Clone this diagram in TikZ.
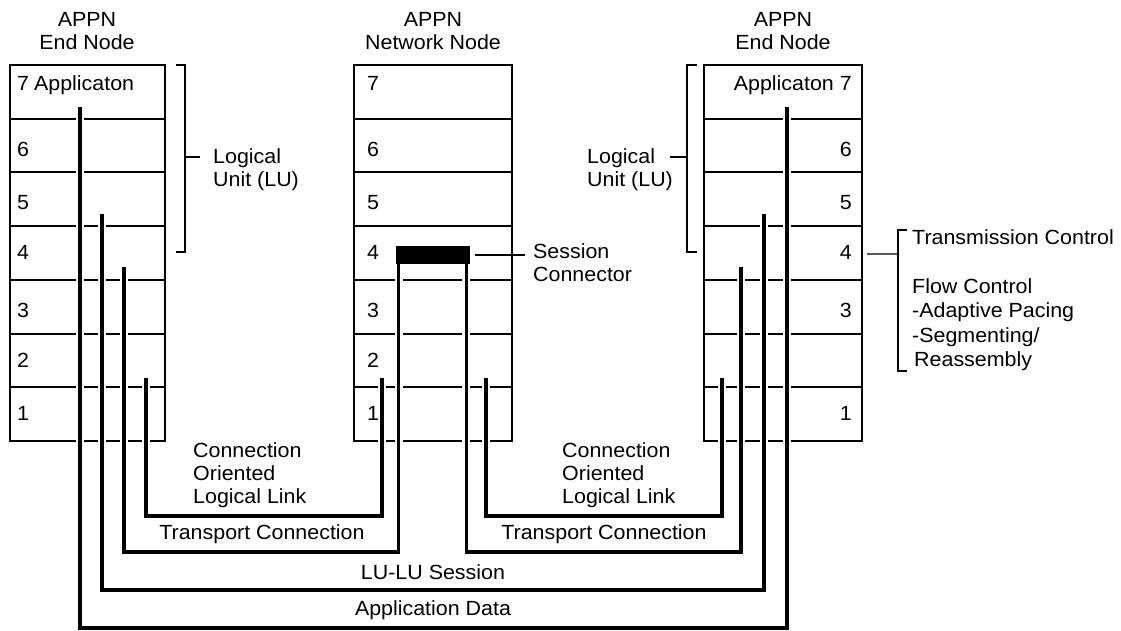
\documentclass[tikz,border=0pt]{standalone}
\usepackage{fontspec}
\setmainfont{Liberation Sans}[FakeStretch=1.045]
\usetikzlibrary{calc}
\begin{document}
\begin{tikzpicture}[x=1pt,y=-1pt,
  layer/.style={draw, line width=2pt, inner sep=0pt, minimum height=53.714pt},
  lbl/.style={inner sep=0pt, font=\fontsize{20.5}{23}\selectfont},
  conn/.style={line width=3.2pt, preaction={draw=white, line width=7.8pt}},
  bracket/.style={line width=1.2pt}]
\useasboundingbox (0,0) rectangle (1121,631);

% protocol stacks: a = left end node, b = network node, c = right end node
\foreach \i in {1,...,7}{
  \node[layer, minimum width=155pt] (a\i) at (87.5,{441-(\i-0.5)*53.714}) {};
  \node[layer, minimum width=158pt] (b\i) at (433,{441-(\i-0.5)*53.714}) {};
  \node[layer, minimum width=158pt] (c\i) at (783,{441-(\i-0.5)*53.714}) {};
}

% headers
\node[lbl, align=center] (ha) at (87,31) {APPN\\End Node};
\node[lbl, align=center] (hb) at (433,31) {APPN\\Network Node};
\node[lbl, align=center] (hc) at (783,31) {APPN\\End Node};

% layer numbers
\node[lbl, anchor=base west] (na7) at (17,91) {7\hspace{5pt}Applicaton};
\foreach \i/\y in {6/157,5/210,4/259,3/317,2/367,1/420}{
  \node[lbl, anchor=base west] (na\i) at (17,\y) {\i};
  \node[lbl, anchor=base west] (nb\i) at (367,\y) {\i};
}
\node[lbl, anchor=base west] (nb7) at (367,91) {7};
\node[lbl, anchor=base east] (nc7) at (852,91) {Applicaton\hspace{6pt}7};
\foreach \i/\y in {6/157,5/210,4/259,3/317,1/420}{
  \node[lbl, anchor=base east] (nc\i) at (852,\y) {\i};
}

% logical unit brackets
\coordinate (luA1) at (176,65);  \coordinate (luA2) at (185,65);
\coordinate (luA3) at (185,252); \coordinate (luA4) at (176,252);
\coordinate (luAm) at (185,157); \coordinate (luAt) at (200,157);
\draw[bracket] (luA1) -- (luA2) -- (luA3) -- (luA4);
\draw[bracket] (luAm) -- (luAt);
\node[lbl, align=left, anchor=west] (lua) at (213,169.5) {Logical\\Unit (LU)};

\coordinate (luC1) at (697,65);  \coordinate (luC2) at (687,65);
\coordinate (luC3) at (687,252); \coordinate (luC4) at (697,252);
\coordinate (luCm) at (687,157); \coordinate (luCt) at (670,157);
\draw[bracket] (luC1) -- (luC2) -- (luC3) -- (luC4);
\draw[bracket] (luCm) -- (luCt);
\node[lbl, align=left, anchor=west] (luc) at (587,169.5) {Logical\\Unit (LU)};

% transmission control bracket
\coordinate (tc1) at (907,230); \coordinate (tc2) at (898,230);
\coordinate (tc3) at (898,371); \coordinate (tc4) at (907,371);
\coordinate (tcm) at (898,254);
\draw[bracket] (tc1) -- (tc2) -- (tc3) -- (tc4);
\draw[bracket] ($(c4.east)+(4,1)$) -- (tcm);
\node[lbl, font=\fontsize{20.5}{24.5}\selectfont, align=left, anchor=west] (tct) at (912,300)
  {Transmission Control\\ \mbox{}\\Flow Control\\-Adaptive Pacing\\-Segmenting/\\\hspace{2pt}Reassembly};

% session connector in the network node
\node[fill=black, inner sep=0pt, minimum width=74pt, minimum height=18pt] (sc) at (433,255) {};
\node[lbl, align=left, anchor=west] (sct) at (533,262.5) {Session\\Connector};

% connection end points
\coordinate (pA) at (80,107);  \coordinate (sA) at (102,214);
\coordinate (tA) at (124,267); \coordinate (lA) at (146,378);
\coordinate (lB1) at (382,378); \coordinate (lB2) at (486,378);
\coordinate (tB1) at ($(sc.south west)+(3,0)$);
\coordinate (tB2) at ($(sc.south east)+(-4,0)$);
\coordinate (lC) at (722,378); \coordinate (tC) at (741,267);
\coordinate (sC) at (764,214); \coordinate (pC) at (787,107);
\coordinate (llBot1) at (264,516); \coordinate (trBot1) at (262,552);
\coordinate (llBot2) at (604,516); \coordinate (trBot2) at (604,552);
\coordinate (luBot) at (433,590);  \coordinate (apBot) at (433,628);

\draw[conn] (lA) |- (llBot1) -| (lB1);
\draw[conn] (tA) |- (trBot1) -| (tB1);
\draw[conn] (lB2) |- (llBot2) -| (lC);
\draw[conn] (tB2) |- (trBot2) -| (tC);
\draw[conn] (sA) |- (luBot) -| (sC);
\draw[conn] (pA) |- (apBot) -| (pC);
\node[fill=black, inner sep=0pt, minimum width=74pt, minimum height=18pt] at (sc) {};
\draw[bracket] ($(sc.east)+(5,0)$) -- ($(sc.east -| sct.west)+(-8,0)$);

% connection labels
\node[lbl, align=left, anchor=west] (ll1) at (193,475) {Connection\\Oriented\\Logical Link};
\node[lbl, align=left, anchor=west] (ll2) at (562,475) {Connection\\Oriented\\Logical Link};
\node[lbl] (tr1) at (262,534) {Transport Connection};
\node[lbl] (tr2) at (604,534) {Transport Connection};
\node[lbl] (lus) at (433,572) {LU-LU Session};
\node[lbl] (apd) at (433,610) {Application Data};
\end{tikzpicture}
\end{document}
